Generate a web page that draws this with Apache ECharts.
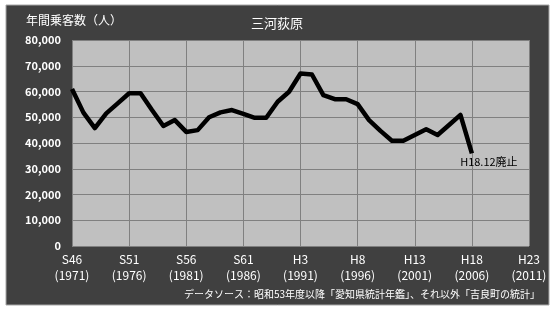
<!DOCTYPE html>
<html>
<head>
<meta charset="utf-8">
<script src="https://cdn.jsdelivr.net/npm/echarts@6/dist/echarts.min.js"></script>
<style>html,body{margin:0;padding:0;background:#fff}#c{width:554px;height:311px}</style>
</head>
<body>
<div id="c"></div>
<script>
var years = [];
for (var y = 1971; y <= 2011; y++) years.push(String(y));
var eraLabels = {"1971":"S46","1976":"S51","1981":"S56","1986":"S61","1991":"H3","1996":"H8","2001":"H13","2006":"H18","2011":"H23"};
var passengers = [61000, 51800, 45800, 51500, 55400, 59300, 59300, 52800, 46600, 48900,
                  44300, 45000, 50000, 51900, 52800, 51300, 49800, 49800, 56000, 59900,
                  67000, 66600, 58600, 57000, 57000, 55100, 48900, 44700, 40900, 40900,
                  43100, 45300, 43100, 47000, 50900, 36000];
var yTicks = [0, 10000, 20000, 30000, 40000, 50000, 60000, 70000, 80000];
var titleText = "三河荻原";
var yName = "年間乗客数（人）";
var endNote = "H18.12廃止";
var endYear = "2006";
var sourceText = "データソース：昭和53年度以降「愛知県統計年鑑」、それ以外「吉良町の統計」";

var font = '"Noto Sans CJK JP", "Noto Sans", sans-serif';

var chart = echarts.init(document.getElementById('c'));
chart.setOption({
  animation: false,
  backgroundColor: '#ffffff',
  graphic: [
    {type: 'rect', z: -10, shape: {x: 6, y: 5, width: 543, height: 300}, style: {fill: '#404040', stroke: '#a6a6a6', lineWidth: 1}},
    {type: 'text', left: 26, top: 14, style: {text: yName, fill: '#fff', fontSize: 12, fontFamily: font}},
    {type: 'text', right: 14, top: 289, style: {text: sourceText, fill: '#fff', fontSize: 10, fontFamily: font}}
  ],
  title: {text: titleText, left: 'center', top: 12, textStyle: {color: '#fff', fontSize: 13, fontWeight: 'normal', fontFamily: font}},
  grid: {left: 72, top: 40, right: 25, bottom: 65, show: true, backgroundColor: '#c0c0c0', borderWidth: 0},
  xAxis: {
    type: 'category', data: years, boundaryGap: false,
    axisLine: {show: false}, axisTick: {show: false},
    axisLabel: {interval: 4, color: '#fff', fontSize: 12, fontFamily: font, lineHeight: 16, margin: 5,
      formatter: function (v) { return eraLabels[v] + '\n(' + v + ')'; }},
    splitLine: {show: true, interval: 4, lineStyle: {color: '#808080', width: 1}}
  },
  yAxis: {
    type: 'value', min: yTicks[0], max: yTicks[yTicks.length - 1], interval: 10000,
    axisLine: {show: false}, axisTick: {show: false},
    axisLabel: {color: '#fff', fontSize: 11, fontWeight: 'bold', fontFamily: font, margin: 11,
      formatter: function (v) { return v.toLocaleString('en-US'); }},
    splitLine: {show: true, lineStyle: {color: '#808080', width: 1}}
  },
  series: [{
    type: 'line', data: passengers, symbol: 'none',
    lineStyle: {color: '#000', width: 4.5, join: 'round'},
    itemStyle: {color: '#000'},
    markPoint: {
      symbol: 'circle', symbolSize: 1, itemStyle: {color: 'rgba(0,0,0,0)'},
      data: [{coord: [endYear, passengers[passengers.length - 1]],
        label: {show: true, formatter: endNote, position: 'bottom', distance: 3, offset: [17, 0],
          color: '#000', fontSize: 11, fontFamily: font}}]
    }
  }]
});
</script>
</body>
</html>
